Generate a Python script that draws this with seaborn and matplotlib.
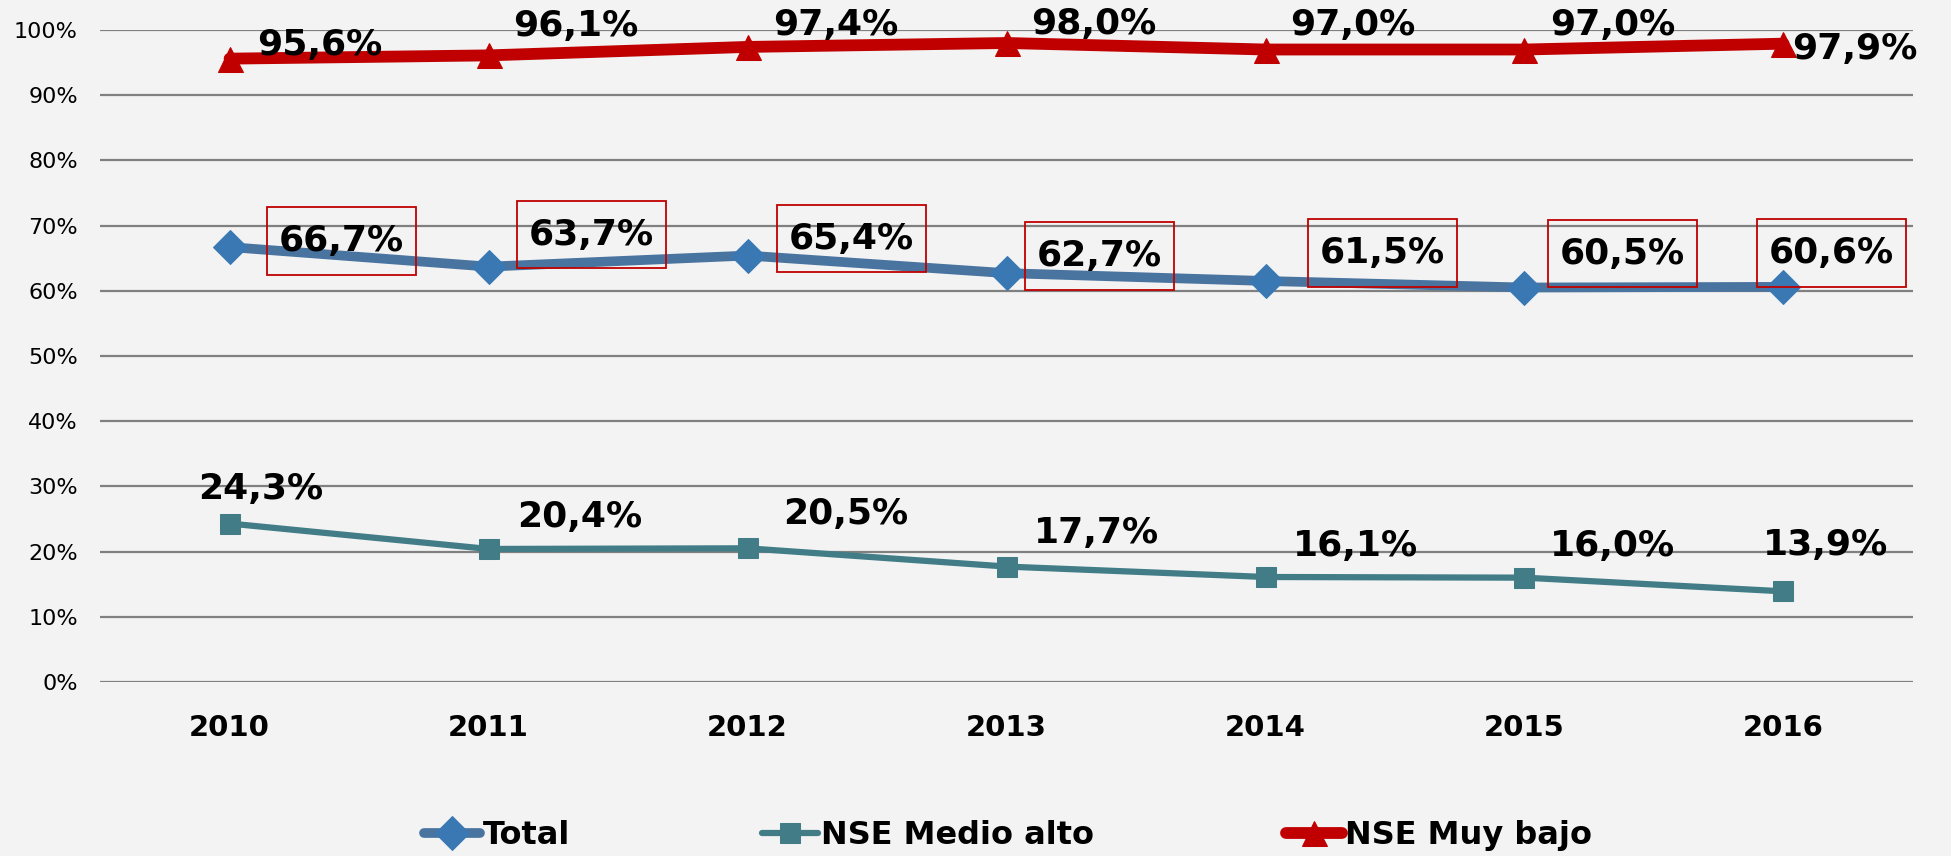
import pandas as pd
import matplotlib.pyplot as plt
import seaborn as sns

# data
years = [2010, 2011, 2012, 2013, 2014, 2015, 2016]
total = [66.7, 63.7, 65.4, 62.7, 61.5, 60.5, 60.6]
medio_alto = [24.3, 20.4, 20.5, 17.7, 16.1, 16.0, 13.9]
muy_bajo = [95.6, 96.1, 97.4, 98.0, 97.0, 97.0, 97.9]
yticks = [0, 10, 20, 30, 40, 50, 60, 70, 80, 90, 100]

df = pd.DataFrame({"year": years, "Total": total,
                   "NSE Medio alto": medio_alto, "NSE Muy bajo": muy_bajo})

bg = "#F3F3F3"
sns.set_style("white")
plt.rcParams["font.family"] = ["DejaVu Sans"]
plt.rcParams["text.color"] = "black"

fig = plt.figure(figsize=(19.51, 8.56), dpi=100, facecolor=bg)
ax = fig.add_axes([0.0513, 0.2033, 0.9292, 0.7617])
ax.set_facecolor(bg)

# lines
sns.lineplot(data=df, x="year", y="Total", ax=ax, color="#4A74A0", lw=7,
             marker="D", markersize=17, markerfacecolor="#3A78B4",
             markeredgecolor="#3A78B4", label="Total", zorder=3)
sns.lineplot(data=df, x="year", y="NSE Medio alto", ax=ax, color="#427D87", lw=4.5,
             marker="s", markersize=14, markerfacecolor="#427D87",
             markeredgecolor="#427D87", label="NSE Medio alto", zorder=3)
sns.lineplot(data=df, x="year", y="NSE Muy bajo", ax=ax, color="#C00000", lw=8.5,
             marker="^", markersize=18, markerfacecolor="#C00000",
             markeredgecolor="#C00000", label="NSE Muy bajo", zorder=3)

def fmt(v):
    return f"{v:.1f}%".replace(".", ",")

# label offsets in pixels (dx, dy)
off_total = [(112, 6), (103, 32), (104, 17), (93, 17), (117, 28), (98, 34), (48, 34)]
off_medio = [(31, 35), (91, 32), (98, 34), (90, 34), (90, 31), (88, 32), (42, 46)]
off_bajo = [(90, 14), (87, 29), (88, 22), (87, 19), (87, 25), (88, 25), (71, -5)]

for x, v, o in zip(years, total, off_total):
    ax.annotate(fmt(v), (x, v), xytext=o, textcoords="offset pixels",
                ha="center", va="center", fontsize=26, fontweight="bold",
                color="black", zorder=5,
                bbox=dict(boxstyle="square,pad=0.33", fc="none", ec="#C00000",
                          lw=1.3, mutation_aspect=1.4))
for x, v, o in zip(years, medio_alto, off_medio):
    ax.annotate(fmt(v), (x, v), xytext=o, textcoords="offset pixels",
                ha="center", va="center", fontsize=26, fontweight="bold",
                color="black", zorder=5)
for x, v, o in zip(years, muy_bajo, off_bajo):
    ax.annotate(fmt(v), (x, v), xytext=o, textcoords="offset pixels",
                ha="center", va="center", fontsize=26, fontweight="bold",
                color="black", zorder=5)

# axes
ax.set_xlim(2009.5, 2016.5)
ax.set_ylim(0, 100)
ax.set_xticks(years)
ax.set_xticklabels([str(y) for y in years], fontsize=21, fontweight="bold", color="black")
ax.set_yticks(yticks)
ax.set_yticklabels([f"{t}%" for t in yticks], fontsize=16, color="black")
ax.tick_params(axis="x", length=0, pad=23)
ax.tick_params(axis="y", length=0, pad=16)
ax.grid(axis="y", color="#808080", lw=1.6)
ax.set_axisbelow(True)
ax.set_xlabel("")
ax.set_ylabel("")
sns.despine(ax=ax, left=True, bottom=True)

handles, labels = ax.get_legend_handles_labels()
ax.get_legend().remove()
fig.legend(handles, labels, loc="center", bbox_to_anchor=(0.5166, 0.024), ncol=3,
           frameon=False, prop={"size": 23, "weight": "bold"},
           handlelength=1.75, handletextpad=0.1, columnspacing=6.0,
           labelcolor="black")

plt.savefig("out.png", dpi=100, facecolor=bg)
